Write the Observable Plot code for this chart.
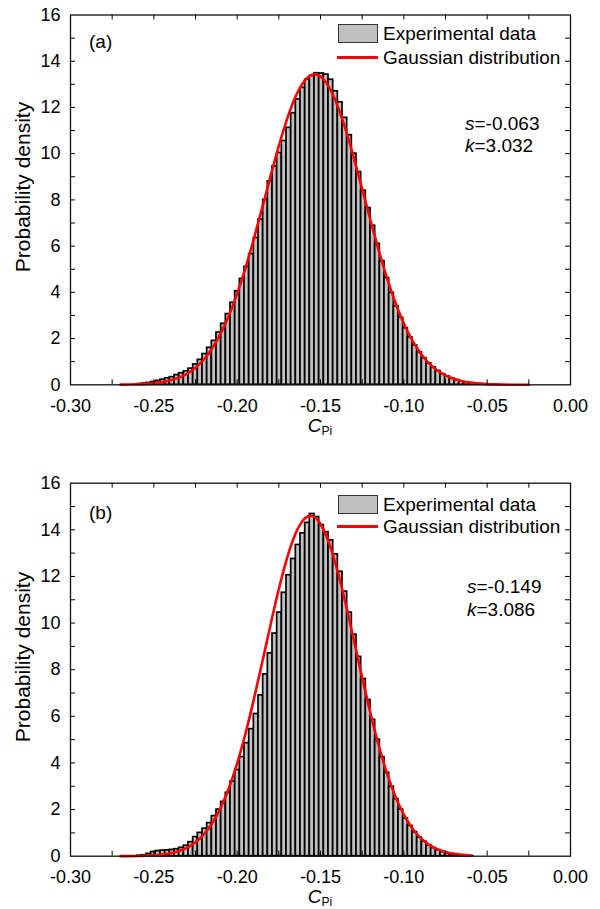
<!DOCTYPE html>
<html>
<head>
<meta charset="utf-8">
<script src="https://cdn.jsdelivr.net/npm/d3@7"></script>
<script src="https://cdn.jsdelivr.net/npm/@observablehq/plot@0.6"></script>
<style>
  body { margin: 0; background: #fff; font-family: "Liberation Sans", Arial, sans-serif; }
  #wrap { position: relative; width: 600px; height: 909px; overflow: hidden; }
  .panel { position: absolute; left: 0; width: 600px; }
  .ov { position: absolute; font-size: 19px; line-height: 19px; color: #000; white-space: nowrap; }
  .sw { position: absolute; box-sizing: border-box; }
</style>
</head>
<body>
<div id="wrap"></div>
<script>
// ---------- data ----------
const binStart = -0.2600;
const binWidth = 0.0028;

// panel (a) histogram densities, one per bin starting at binStart
const densityA = [0.03,0.05,0.08,0.12,0.17,0.22,0.28,0.33,0.42,0.50,
  0.58,0.70,0.88,1.08,1.33,1.60,1.90,2.26,2.64,3.06,
  3.55,4.05,4.58,5.10,5.65,6.35,7.15,8.00,8.80,9.45,
  10.03,10.55,11.12,11.75,12.35,12.85,13.20,13.36,13.48,13.47,
  13.42,13.20,12.70,12.22,11.55,10.80,10.00,9.20,8.40,7.65,
  6.88,6.10,5.35,4.62,3.98,3.40,2.90,2.45,2.05,1.70,
  1.40,1.15,0.93,0.75,0.60,0.46,0.36,0.27,0.20,0.14,
  0.10,0.07,0.05,0.03,0.02,0.01,0.01];

// panel (b) histogram densities
const densityB = [0.02,0.04,0.10,0.18,0.22,0.24,0.25,0.27,0.30,0.36,
  0.45,0.60,0.82,1.00,1.18,1.42,1.72,2.00,2.33,2.72,
  3.20,3.70,4.25,4.85,5.45,6.10,6.90,7.80,8.70,9.55,
  10.45,11.30,12.05,12.75,13.35,13.85,14.30,14.68,14.55,14.20,
  13.90,13.55,12.95,12.20,11.35,10.45,9.50,8.55,7.60,6.70,
  5.85,5.00,4.25,3.58,2.98,2.45,2.00,1.62,1.30,1.03,
  0.80,0.62,0.47,0.35,0.26,0.18,0.12,0.08,0.05,0.03,
  0.02,0.01];

// Gaussian curve (a)
const curveXA = [-0.270,-0.265,-0.260,-0.255,-0.250,-0.245,-0.240,-0.235,-0.230,-0.225,
  -0.220,-0.215,-0.210,-0.205,-0.200,-0.195,-0.190,-0.185,-0.180,-0.175,
  -0.170,-0.165,-0.160,-0.155,-0.150,-0.145,-0.140,-0.135,-0.130,-0.125,
  -0.120,-0.115,-0.110,-0.105,-0.100,-0.095,-0.090,-0.085,-0.080,-0.075,
  -0.070,-0.065,-0.060,-0.055,-0.050,-0.045,-0.040,-0.035,-0.030,-0.025];
const curveYA = [0.006,0.012,0.022,0.039,0.068,0.117,0.193,0.311,0.487,0.741,
  1.095,1.574,2.200,2.988,3.942,5.060,6.312,7.652,9.019,10.334,
  11.509,12.460,13.112,13.413,13.337,12.890,12.112,11.062,9.820,8.476,
  7.108,5.798,4.593,3.540,2.652,1.930,1.366,0.940,0.629,0.408,
  0.258,0.158,0.095,0.055,0.031,0.017,0.009,0.004,0.002,0.001];

// Gaussian curve (b)
const curveXB = [-0.270,-0.265,-0.260,-0.255,-0.250,-0.245,-0.240,-0.235,-0.230,-0.225,
  -0.220,-0.215,-0.210,-0.205,-0.200,-0.195,-0.190,-0.185,-0.180,-0.175,
  -0.170,-0.165,-0.160,-0.155,-0.150,-0.145,-0.140,-0.135,-0.130,-0.125,
  -0.120,-0.115,-0.110,-0.105,-0.100,-0.095,-0.090,-0.085,-0.080,-0.075,
  -0.070,-0.065,-0.060];
const curveYB = [0.002,0.005,0.010,0.020,0.039,0.072,0.128,0.222,0.370,0.599,
  0.935,1.413,2.064,2.916,3.983,5.262,6.726,8.306,9.921,11.460,
  12.801,13.828,14.444,14.590,14.251,13.461,12.296,10.861,9.278,7.661,
  6.120,4.726,3.529,2.549,1.781,1.203,0.785,0.496,0.303,0.179,
  0.102,0.056,0.030];

const xTickLabels = [-0.30,-0.25,-0.20,-0.15,-0.10,-0.05,0.00];
const xTickMarks = [-0.275,-0.25,-0.225,-0.20,-0.175,-0.15,-0.125,-0.10,-0.075,-0.05,-0.025];
const yTickLabels = [0,2,4,6,8,10,12,14,16];
const yTickMarks = [1,2,3,4,5,6,7,8,9,10,11,12,13,14,15];

const legendLabels = ["Experimental data", "Gaussian distribution"];
const panelLabels = ["(a)", "(b)"];
const skewness = ["-0.063", "-0.149"];
const kurtosis = ["3.032", "3.086"];

// ---------- drawing ----------
const wrap = document.getElementById("wrap");
function addDiv(cls, css, html) {
  const d = document.createElement("div");
  d.className = cls;
  Object.assign(d.style, css);
  if (html != null) d.innerHTML = html;
  wrap.appendChild(d);
  return d;
}

function drawPanel(p) {
  const iw = 500;
  const ih = p.height - p.mt - p.mb;
  const bars = p.density.map((h, i) => ({x1: binStart + i * binWidth, x2: binStart + (i + 1) * binWidth, y: h}));
  const curve = p.cx.map((x, i) => ({x, y: p.cy[i]}));
  const svg = Plot.plot({
    width: 600, height: p.height,
    marginLeft: 70, marginRight: 30, marginTop: p.mt, marginBottom: p.mb,
    x: {domain: [-0.3, 0]},
    y: {domain: [0, 16]},
    style: {fontFamily: "'Liberation Sans', Arial, sans-serif", fontSize: "18px", color: "#000", background: "transparent", overflow: "visible"},
    marks: [
      Plot.rectY(bars, {x1: "x1", x2: "x2", y: "y", fill: "#c0c0c0", stroke: "#000", strokeWidth: 1.7}),
      Plot.line(curve, {x: "x", y: "y", stroke: "#ff0000", strokeWidth: 2.6, curve: "natural"}),
      Plot.tickX(xTickMarks, {x: d => d, insetTop: ih - 5, stroke: "#000"}),
      Plot.tickX(xTickMarks, {x: d => d, insetBottom: ih - 5, stroke: "#000"}),
      Plot.tickY(yTickMarks, {y: d => d, insetRight: iw - 5, stroke: "#000"}),
      Plot.tickY(yTickMarks, {y: d => d, insetLeft: iw - 5, stroke: "#000"}),
      Plot.frame({stroke: "#111", strokeWidth: 1.3}),
      Plot.axisX(xTickLabels, {tickSize: 0, tickPadding: 14, tickFormat: d => d.toFixed(2), label: null, fontSize: 18}),
      Plot.axisY(yTickLabels, {tickSize: 0, tickPadding: 10, tickFormat: d => String(d), label: null, fontSize: 18})
    ]
  });
  const holder = addDiv("panel", {top: p.top + "px", height: p.height + "px"});
  holder.appendChild(svg);

  const fTop = p.top + p.mt;
  const fBot = p.top + p.height - p.mb;
  // panel label
  addDiv("ov", {left: "89px", top: (p.labelY - 9.5) + "px"}, p.label);
  // legend
  addDiv("sw", {left: "338px", top: p.boxTop + "px", width: "40px", height: "19px", background: "#c0c0c0", border: "1px solid #333"});
  addDiv("ov", {left: "383px", top: (p.boxTop + 9.5 - 9.5) + "px"}, legendLabels[0]);
  addDiv("sw", {left: "337px", top: (p.lineY - 1.3) + "px", width: "41px", height: "2.6px", background: "#ff0000"});
  addDiv("ov", {left: "383px", top: (p.lineY - 9.5) + "px"}, legendLabels[1]);
  // statistics
  addDiv("ov", {left: p.statX + "px", top: (p.sY - 9.5) + "px"}, "<i>s</i>=" + p.s);
  addDiv("ov", {left: p.statX + "px", top: (p.kY - 9.5) + "px"}, "<i>k</i>=" + p.k);
  // x title
  addDiv("ov", {left: "270px", width: "100px", textAlign: "center", top: (fBot + 41 - 9.5) + "px"},
    "<i>C</i><span style='font-size:12px;vertical-align:-3px'>Pi</span>");
  // y title
  addDiv("ov", {left: "22px", top: ((fTop + fBot) / 2 - 12) + "px", fontSize: "21px", lineHeight: "21px",
    transform: "translate(-50%,-50%) rotate(-90deg)"}, "Probability density");
}

drawPanel({density: densityA, cx: curveXA, cy: curveYA, top: 0, height: 450, mt: 14.5, mb: 65.7,
  label: panelLabels[0], labelY: 41, boxTop: 24, lineY: 57.5, statX: 465, sY: 123, kY: 145, s: skewness[0], k: kurtosis[0]});
drawPanel({density: densityB, cx: curveXB, cy: curveYB, top: 450, height: 459, mt: 32.7, mb: 53.3,
  label: panelLabels[1], labelY: 512, boxTop: 494.5, lineY: 526.5, statX: 467, sY: 586, kY: 609, s: skewness[1], k: kurtosis[1]});
</script>
</body>
</html>
